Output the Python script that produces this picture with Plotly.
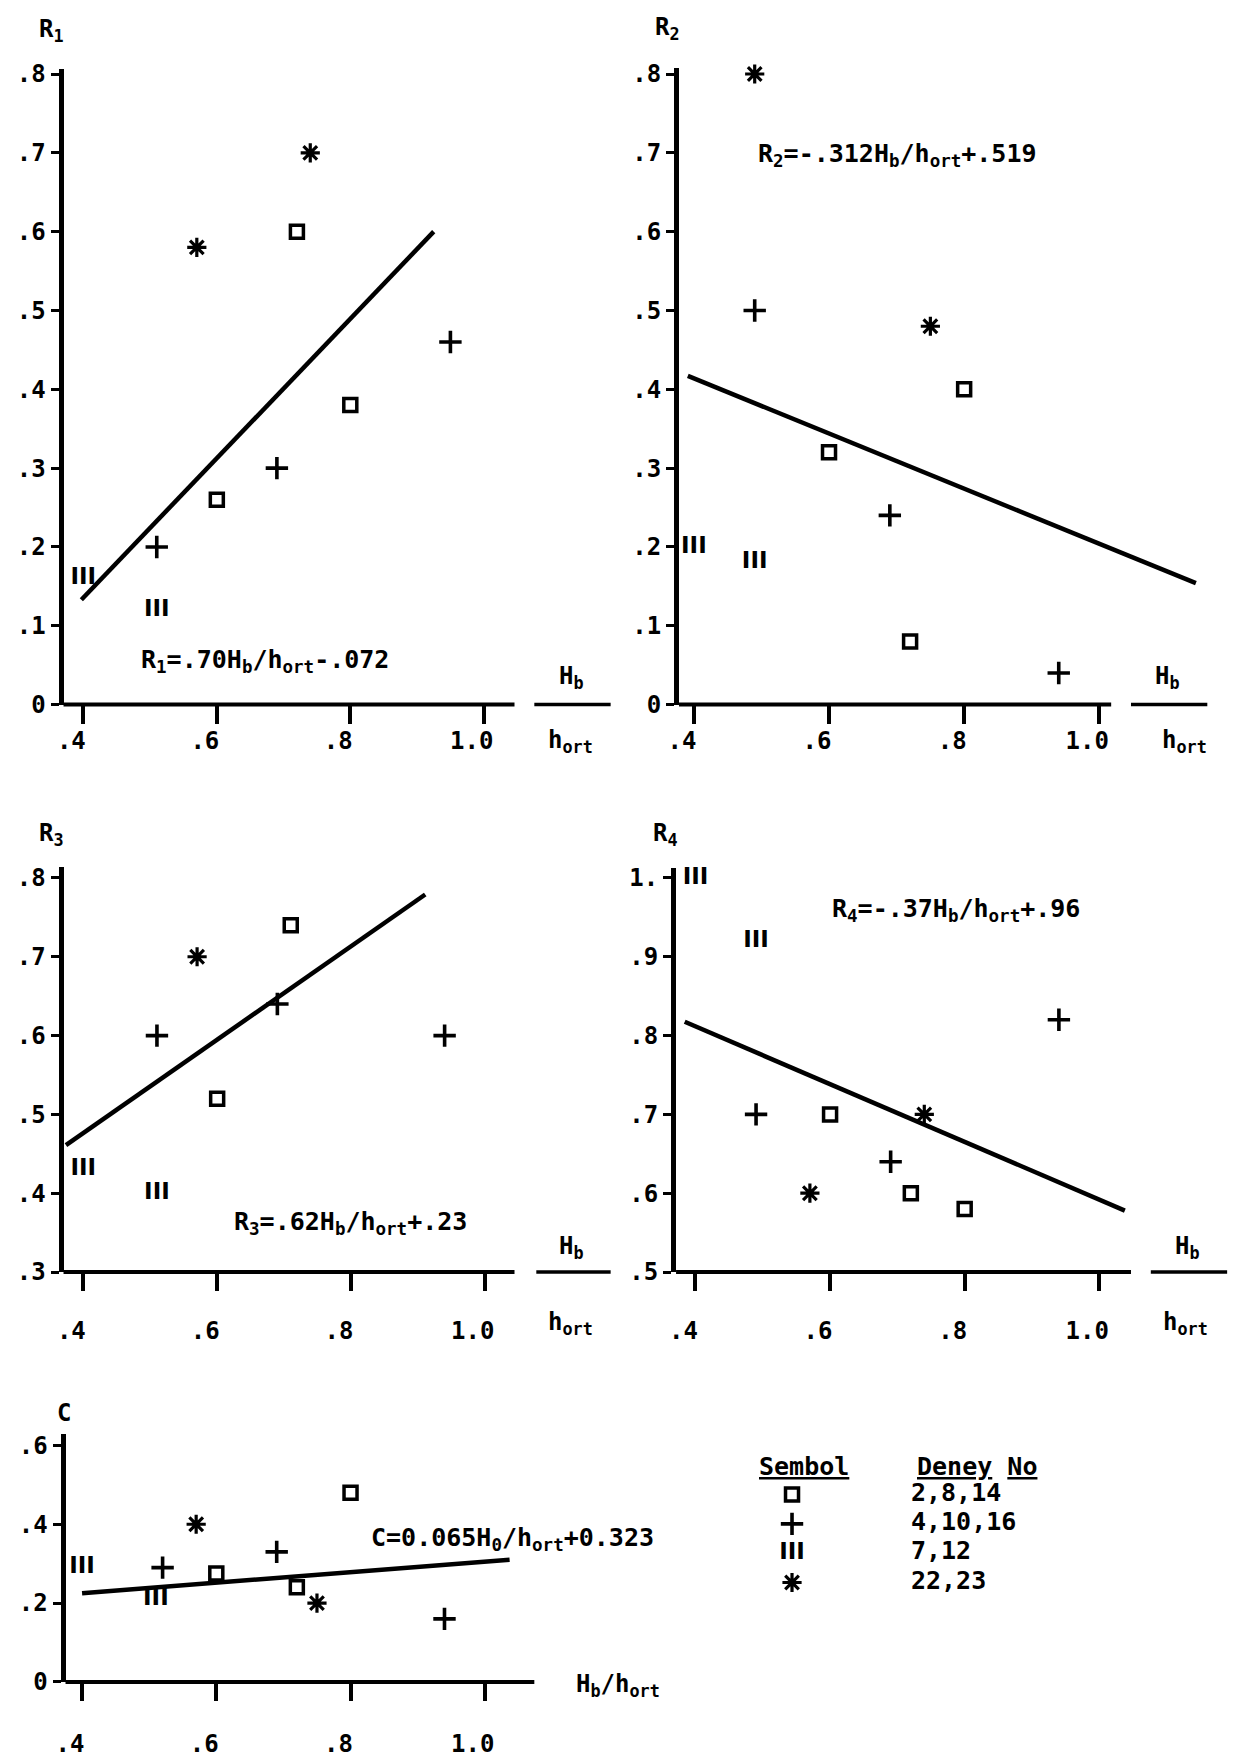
import plotly.graph_objects as go

W, H = 1242, 1758

# ---------------- data ----------------
x_ticks = [0.4, 0.6, 0.8, 1.0]
x_tick_text = [".4", ".6", ".8", "1.0"]

r12_yticks = [0, .1, .2, .3, .4, .5, .6, .7, .8]
r12_ytext = ["0", ".1", ".2", ".3", ".4", ".5", ".6", ".7", ".8"]
r3_yticks = [.3, .4, .5, .6, .7, .8]
r3_ytext = [".3", ".4", ".5", ".6", ".7", ".8"]
r4_yticks = [.5, .6, .7, .8, .9, 1.0]
r4_ytext = [".5", ".6", ".7", ".8", ".9", "1."]
c_yticks = [0, .2, .4, .6]
c_ytext = ["0", ".2", ".4", ".6"]

# R1
r1_o_x = [0.60, 0.72, 0.80]
r1_o_y = [0.26, 0.60, 0.38]
r1_p_x = [0.51, 0.69, 0.95]
r1_p_y = [0.20, 0.30, 0.46]
r1_iii_x = [0.40, 0.51]
r1_iii_y = [0.16, 0.12]
r1_s_x = [0.57, 0.74]
r1_s_y = [0.58, 0.70]
r1_fit_x = [0.397, 0.925]
r1_fit_y = [0.133, 0.600]

# R2
r2_o_x = [0.60, 0.72, 0.80]
r2_o_y = [0.32, 0.08, 0.40]
r2_p_x = [0.49, 0.69, 0.94]
r2_p_y = [0.50, 0.24, 0.04]
r2_iii_x = [0.40, 0.49]
r2_iii_y = [0.20, 0.18]
r2_s_x = [0.49, 0.75]
r2_s_y = [0.80, 0.48]
r2_fit_x = [0.391, 1.143]
r2_fit_y = [0.417, 0.154]

# R3
r3_o_x = [0.60, 0.71, 0.80]
r3_o_y = [0.52, 0.74, 0.82]
r3_p_x = [0.51, 0.69, 0.94]
r3_p_y = [0.60, 0.64, 0.60]
r3_iii_x = [0.40, 0.51]
r3_iii_y = [0.43, 0.40]
r3_s_x = [0.57, 0.74]
r3_s_y = [0.70, 0.82]
r3_fit_x = [0.374, 0.911]
r3_fit_y = [0.461, 0.779]

# R4
r4_o_x = [0.60, 0.72, 0.80]
r4_o_y = [0.70, 0.60, 0.58]
r4_p_x = [0.49, 0.69, 0.94]
r4_p_y = [0.70, 0.64, 0.82]
r4_iii_x = [0.40, 0.49]
r4_iii_y = [1.00, 0.92]
r4_s_x = [0.57, 0.74]
r4_s_y = [0.60, 0.70]
r4_fit_x = [0.384, 1.038]
r4_fit_y = [0.8175, 0.578]

# C
c_o_x = [0.60, 0.72, 0.80]
c_o_y = [0.275, 0.24, 0.48]
c_p_x = [0.52, 0.69, 0.94]
c_p_y = [0.29, 0.33, 0.16]
c_iii_x = [0.40, 0.51]
c_iii_y = [0.29, 0.21]
c_s_x = [0.57, 0.75]
c_s_y = [0.40, 0.20]
c_fit_x = [0.40, 1.037]
c_fit_y = [0.225, 0.31]

legend_symbols = ["o", "+", "III", "*"]
legend_numbers = ["2,8,14", "4,10,16", "7,12", "22,23"]

titles = ["R<sub>1</sub>", "R<sub>2</sub>", "R<sub>3</sub>", "R<sub>4</sub>", "C"]
equations = [
    "R<sub>1</sub>=.70H<sub>b</sub>/h<sub>ort</sub>-.072",
    "R<sub>2</sub>=-.312H<sub>b</sub>/h<sub>ort</sub>+.519",
    "R<sub>3</sub>=.62H<sub>b</sub>/h<sub>ort</sub>+.23",
    "R<sub>4</sub>=-.37H<sub>b</sub>/h<sub>ort</sub>+.96",
    "C=0.065H<sub>0</sub>/h<sub>ort</sub>+0.323",
]

series = [
    dict(o=(r1_o_x, r1_o_y), p=(r1_p_x, r1_p_y), iii=(r1_iii_x, r1_iii_y), s=(r1_s_x, r1_s_y),
         fit=(r1_fit_x, r1_fit_y), yt=(r12_yticks, r12_ytext)),
    dict(o=(r2_o_x, r2_o_y), p=(r2_p_x, r2_p_y), iii=(r2_iii_x, r2_iii_y), s=(r2_s_x, r2_s_y),
         fit=(r2_fit_x, r2_fit_y), yt=(r12_yticks, r12_ytext)),
    dict(o=(r3_o_x, r3_o_y), p=(r3_p_x, r3_p_y), iii=(r3_iii_x, r3_iii_y), s=(r3_s_x, r3_s_y),
         fit=(r3_fit_x, r3_fit_y), yt=(r3_yticks, r3_ytext)),
    dict(o=(r4_o_x, r4_o_y), p=(r4_p_x, r4_p_y), iii=(r4_iii_x, r4_iii_y), s=(r4_s_x, r4_s_y),
         fit=(r4_fit_x, r4_fit_y), yt=(r4_yticks, r4_ytext)),
    dict(o=(c_o_x, c_o_y), p=(c_p_x, c_p_y), iii=(c_iii_x, c_iii_y), s=(c_s_x, c_s_y),
         fit=(c_fit_x, c_fit_y), yt=(c_yticks, c_ytext)),
]

# ---------------- layout geometry (pixels) ----------------
geoms = [
    dict(left=53, bottom=706, top=61, right=520, px04=73, px10=477, yb=0.0, ppy=800,
         axend=508, bar=(528, 605), title=(41, 22), eq=(256, 662), hb=(566, 679), hort=(564, 744),
         standoff=-3),
    dict(left=674, bottom=706, top=60, right=1205, px04=689, px10=1098, yb=0.0, ppy=800,
         axend=1110, bar=(1130, 1207), title=(662, 20), eq=(894, 148), hb=(1167, 679), hort=(1184, 744),
         standoff=-3),
    dict(left=53, bottom=1282, top=871, right=520, px04=73, px10=478, yb=0.3, ppy=800,
         axend=508, bar=(530, 605), title=(41, 838), eq=(343, 1232), hb=(566, 1257), hort=(564, 1334),
         standoff=19),
    dict(left=671, bottom=1282, top=872, right=1135, px04=690.6, px10=1098, yb=0.5, ppy=800,
         axend=1130, bar=(1150, 1227), title=(660, 838), eq=(953, 915), hb=(1187, 1257), hort=(1185, 1334),
         standoff=19),
    dict(left=55, bottom=1698, top=1446, right=535, px04=71.7, px10=478, yb=0.0, ppy=400,
         axend=528, bar=None, title=(53, 1425), eq=(506, 1553), hb=None, hort=None,
         standoff=22),
]

FONT = "DejaVu Sans Mono"
BLACK = "#000000"
TXT = dict(family=FONT, size=24, color=BLACK, weight="bold")


def bold(t):
    return "<b>" + t + "</b>"


marker_styles = {
    "o": dict(symbol="square-open", size=13, color=BLACK, line=dict(width=3.5, color=BLACK)),
    "+": dict(symbol="cross-thin-open", size=16, color=BLACK, line=dict(width=3.6, color=BLACK)),
    "*": dict(symbol="asterisk-open", size=16, color=BLACK, line=dict(width=3.2, color=BLACK)),
}
iii_font = dict(family="DejaVu Sans", size=23, color=BLACK, weight="bold")


def px_x(p):
    return p / W


def px_y(p):
    return 1 - p / H


fig = go.Figure()
layout = {}
annotations = []
shapes = []

for i, (s, g) in enumerate(zip(series, geoms), start=1):
    sfx = "" if i == 1 else str(i)
    xa, ya = "x" + sfx, "y" + sfx
    ppx = (g["px10"] - g["px04"]) / 0.6
    xr = [0.4 - (g["px04"] - g["left"]) / ppx, 0.4 + (g["right"] - g["px04"]) / ppx]
    yr = [g["yb"], g["yb"] + (g["bottom"] - g["top"]) / g["ppy"]]

    fig.add_trace(go.Scatter(x=s["fit"][0], y=s["fit"][1], mode="lines",
                             line=dict(color=BLACK, width=4.5), xaxis=xa, yaxis=ya,
                             showlegend=False, hoverinfo="skip"))
    for key, sym in (("o", "o"), ("p", "+"), ("s", "*")):
        fig.add_trace(go.Scatter(x=s[key][0], y=s[key][1], mode="markers",
                                 marker=marker_styles[sym], cliponaxis=False,
                                 xaxis=xa, yaxis=ya, showlegend=False))
    fig.add_trace(go.Scatter(x=s["iii"][0], y=s["iii"][1], mode="text",
                             text=[bold("III")] * len(s["iii"][0]), textposition="middle center",
                             textfont=iii_font, cliponaxis=False,
                             xaxis=xa, yaxis=ya, showlegend=False))

    layout["xaxis" + sfx] = dict(
        domain=[px_x(g["left"]), px_x(g["right"])], range=xr, anchor=ya,
        showline=False, showgrid=False, zeroline=False,
        ticks="outside", ticklen=18, tickwidth=3.5, tickcolor=BLACK,
        tickvals=x_ticks, ticktext=[bold(t) for t in x_tick_text],
        tickfont=dict(family=FONT, size=24, color=BLACK, weight="bold"),
        ticklabelstandoff=g["standoff"], ticklabelshift=-12,
    )
    layout["yaxis" + sfx] = dict(
        domain=[px_y(g["bottom"]), px_y(g["top"])], range=yr, anchor=xa,
        showline=True, linewidth=5, linecolor=BLACK, showgrid=False, zeroline=False,
        ticks="outside", ticklen=8, tickwidth=3, tickcolor=BLACK,
        tickvals=s["yt"][0], ticktext=[bold(t) for t in s["yt"][1]],
        tickfont=dict(family=FONT, size=24, color=BLACK, weight="bold"),
    )

    # axis line and fraction bar
    shapes.append(dict(type="line", xref="paper", yref="paper",
                       x0=px_x(g["left"]), x1=px_x(g["axend"]),
                       y0=px_y(g["bottom"]), y1=px_y(g["bottom"]),
                       line=dict(color=BLACK, width=4)))
    if g["bar"]:
        shapes.append(dict(type="line", xref="paper", yref="paper",
                           x0=px_x(g["bar"][0]), x1=px_x(g["bar"][1]),
                           y0=px_y(g["bottom"]), y1=px_y(g["bottom"]),
                           line=dict(color=BLACK, width=3.5)))
        annotations.append(dict(text=bold("H<sub>b</sub>"), x=px_x(g["hb"][0]), y=px_y(g["hb"][1]),
                                xref="paper", yref="paper", showarrow=False,
                                xanchor="center", yanchor="middle", font=TXT))
        annotations.append(dict(text=bold("h<sub>ort</sub>"), x=px_x(g["hort"][0]), y=px_y(g["hort"][1]),
                                xref="paper", yref="paper", showarrow=False,
                                xanchor="center", yanchor="middle", font=TXT))

    annotations.append(dict(text=bold(titles[i - 1]), x=px_x(g["title"][0]), y=px_y(g["title"][1]),
                            xref="paper", yref="paper", showarrow=False,
                            xanchor="center", yanchor="middle", font=TXT))
    annotations.append(dict(text=bold(equations[i - 1]), x=px_x(g["eq"][0]), y=px_y(g["eq"][1]),
                            xref="paper", yref="paper", showarrow=False,
                            xanchor="center", yanchor="middle",
                            font=dict(family=FONT, size=25, color=BLACK, weight="bold")))

# C panel x-title
annotations.append(dict(text=bold("H<sub>b</sub>/h<sub>ort</sub>"), x=px_x(612), y=px_y(1702),
                        xref="paper", yref="paper", showarrow=False,
                        xanchor="center", yanchor="middle", font=TXT))

# ---------------- symbol table (legend) ----------------
leg_left, leg_right, leg_top, leg_bot = 740, 1060, 1493, 1612
n_rows = len(legend_symbols)
rows = list(range(n_rows))
sym_x = (788 - leg_left) / (leg_right - leg_left)
txt_x = (908 - leg_left) / (leg_right - leg_left)
for r, sym in zip(rows, legend_symbols):
    if sym == "III":
        fig.add_trace(go.Scatter(x=[sym_x], y=[r], mode="text", text=[bold("III")],
                                 textfont=iii_font, xaxis="x6", yaxis="y6",
                                 showlegend=False, cliponaxis=False))
    else:
        fig.add_trace(go.Scatter(x=[sym_x], y=[r], mode="markers", marker=marker_styles[sym],
                                 xaxis="x6", yaxis="y6", showlegend=False, cliponaxis=False))
fig.add_trace(go.Scatter(x=[txt_x] * n_rows, y=rows, mode="text",
                         text=[bold(t) for t in legend_numbers],
                         textposition="middle right",
                         textfont=dict(family=FONT, size=25, color=BLACK, weight="bold"),
                         xaxis="x6", yaxis="y6", showlegend=False, cliponaxis=False))
layout["xaxis6"] = dict(domain=[px_x(leg_left), px_x(leg_right)], range=[0, 1],
                        visible=False, anchor="y6")
layout["yaxis6"] = dict(domain=[px_y(leg_bot), px_y(leg_top)], range=[n_rows - 0.5, -0.5],
                        visible=False, anchor="x6")
annotations.append(dict(text="<b><u>Sembol</u></b>", x=px_x(800), y=px_y(1479), xref="paper",
                        yref="paper", showarrow=False, xanchor="center", yanchor="middle",
                        font=dict(family=FONT, size=25, color=BLACK, weight="bold")))
annotations.append(dict(text="<b><u>Deney</u> <u>No</u></b>", x=px_x(975), y=px_y(1479), xref="paper",
                        yref="paper", showarrow=False, xanchor="center", yanchor="middle",
                        font=dict(family=FONT, size=25, color=BLACK, weight="bold")))

fig.update_layout(
    width=W, height=H, autosize=False,
    margin=dict(l=0, r=0, t=0, b=0),
    paper_bgcolor="white", plot_bgcolor="rgba(0,0,0,0)",
    showlegend=False,
    annotations=annotations, shapes=shapes,
    **layout,
)

fig.write_html("out.html")
